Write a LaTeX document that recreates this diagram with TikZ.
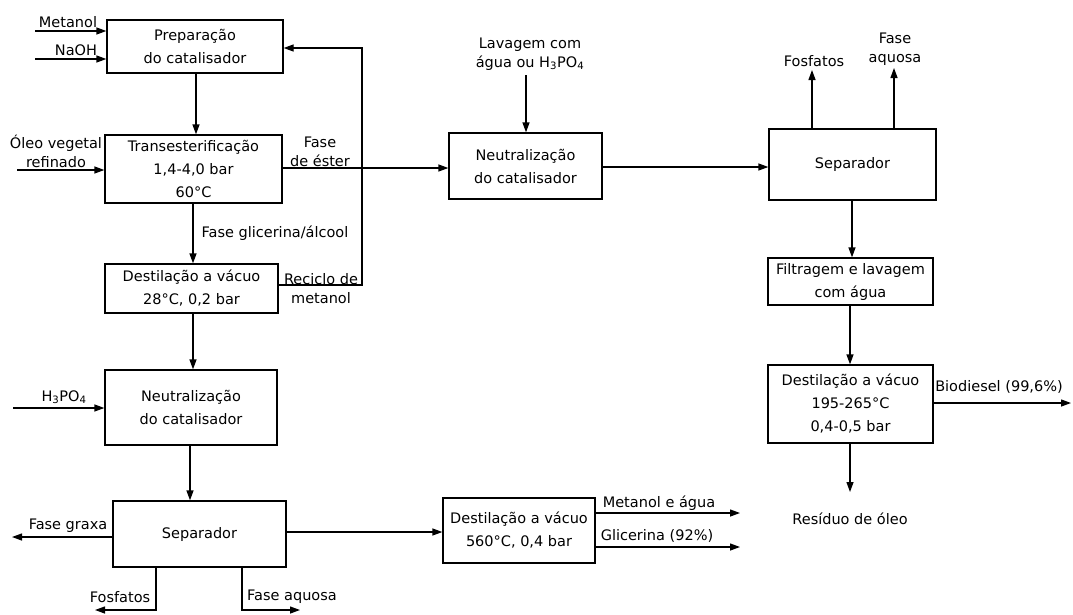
\documentclass[tikz,border=0pt]{standalone}
\usepackage{fontspec}
\setmainfont{DejaVu Sans}
\usetikzlibrary{arrows.meta}
\begin{document}
\begin{tikzpicture}[x=1pt,y=-1pt,
  box/.style={draw, line width=1.3pt, inner sep=2pt, align=center, font=\fontsize{14.5}{23}\selectfont},
  flow/.style={line width=1.3pt, -{Triangle[length=10pt,width=7pt]}},
  lbl/.style={font=\fontsize{14.5}{19}\selectfont, align=center, inner sep=1pt}]
\useasboundingbox (0,0) rectangle (1073,614);

% boxes
\node[box, minimum width=176pt, minimum height=53pt] (prep) at (195,46.5) {Preparação\\do catalisador};
\node[box, minimum width=177pt, minimum height=68pt] (trans) at (193.5,169) {Transesterificação\\1,4-4,0 bar\\60°C};
\node[box, minimum width=173pt, minimum height=49pt] (dest1) at (191.5,288.5) {Destilação a vácuo\\28°C, 0,2 bar};
\node[box, minimum width=172pt, minimum height=75pt] (neut1) at (191,407.5) {Neutralização\\do catalisador};
\node[box, minimum width=173pt, minimum height=66pt] (sep1) at (199.5,534) {Separador};
\node[box, minimum width=152pt, minimum height=65pt] (dest2) at (519,530.5) {Destilação a vácuo\\560°C, 0,4 bar};
\node[box, minimum width=153pt, minimum height=66pt] (neut2) at (525.5,166) {Neutralização\\do catalisador};
\node[box, minimum width=167pt, minimum height=71pt] (sep2) at (852.5,164.5) {Separador};
\node[box, minimum width=165pt, minimum height=47pt] (filt) at (850.5,281.5) {Filtragem e lavagem\\com água};
\node[box, minimum width=165pt, minimum height=78pt] (dest3) at (850.5,404) {Destilação a vácuo\\195-265°C\\0,4-0,5 bar};

% free ends
\coordinate (inMet) at (35,31);
\coordinate (inNaOH) at (35,59);
\coordinate (inOleo) at (17,170);
\coordinate (inH3) at (13,408);
\coordinate (inLav) at (526,75);
\coordinate (r1) at (362,285);
\coordinate (r2) at (362,48);
\coordinate (outGraxa) at (12,537);
\coordinate (f1) at (156,610);
\coordinate (f1e) at (95,610);
\coordinate (a1) at (242,610);
\coordinate (a1e) at (300,610);
\coordinate (outMet) at (740,513);
\coordinate (outGli) at (740,547);
\coordinate (outFos) at (812,70);
\coordinate (outAq) at (894,68);
\coordinate (outBio) at (1071,403);
\coordinate (outRes) at (850,492);

% connectors
\draw[flow] (inMet) -- (inMet -| prep.west);
\draw[flow] (inNaOH) -- (inNaOH -| prep.west);
\draw[flow] (prep.south -| 196,0) -- (196,0 |- trans.north);
\draw[flow] (inOleo) -- (inOleo -| trans.west);
\draw[flow] (trans.south -| 193,0) -- (193,0 |- dest1.north);
\draw[flow] (r1 -| dest1.east) -- (r1) -- (r2) -- (r2 -| prep.east);
\draw[flow] (dest1.south -| 193,0) -- (193,0 |- neut1.north);
\draw[flow] (inH3) -- (inH3 -| neut1.west);
\draw[flow] (neut1.south -| 190,0) -- (190,0 |- sep1.north);
\draw[flow] (sep1.west |- outGraxa) -- (outGraxa);
\draw[flow] (f1 |- sep1.south) -- (f1) -- (f1e);
\draw[flow] (a1 |- sep1.south) -- (a1) -- (a1e);
\draw[flow] (sep1.east |- 0,532) -- (dest2.west |- 0,532);
\draw[flow] (dest2.east |- outMet) -- (outMet);
\draw[flow] (dest2.east |- outGli) -- (outGli);
\draw[flow] (trans.east |- 0,168) -- (neut2.west |- 0,168);
\draw[flow] (inLav) -- (inLav |- neut2.north);
\draw[flow] (neut2.east |- 0,167) -- (sep2.west |- 0,167);
\draw[flow] (outFos |- sep2.north) -- (outFos);
\draw[flow] (outAq |- sep2.north) -- (outAq);
\draw[flow] (sep2.south -| 852,0) -- (852,0 |- filt.north);
\draw[flow] (filt.south -| 850,0) -- (850,0 |- dest3.north);
\draw[flow] (dest3.east |- outBio) -- (outBio);
\draw[flow] (dest3.south -| outRes) -- (outRes);

% labels
\node[lbl] (lMet) at (68,22) {Metanol};
\node[lbl] (lNaOH) at (76,50) {NaOH};
\node[lbl] (lOleo) at (56,151) {Óleo vegetal\\refinado};
\node[lbl] (lEster) at (320,152) {Fase\\de éster};
\node[lbl] (lGli) at (275,233) {Fase glicerina/álcool};
\node[lbl] (lRec) at (321,289) {Reciclo de\\metanol};
\node[lbl] (lH3) at (64,397) {H\textsubscript{3}PO\textsubscript{4}};
\node[lbl] (lGraxa) at (68,526) {Fase graxa};
\node[lbl] (lFos1) at (120,597) {Fosfatos};
\node[lbl] (lAq1) at (292,597) {Fase aquosa};
\node[lbl] (lMetA) at (659,503) {Metanol e água};
\node[lbl] (lGlic) at (657,536) {Glicerina (92\%)};
\node[lbl] (lLav) at (530,54) {Lavagem com\\água ou H\textsubscript{3}PO\textsubscript{4}};
\node[lbl] (lFos2) at (814,61) {Fosfatos};
\node[lbl] (lAq2) at (895,49) {Fase\\aquosa};
\node[lbl] (lBio) at (999,387) {Biodiesel (99,6\%)};
\node[lbl] (lRes) at (850,519) {Resíduo de óleo};
\end{tikzpicture}
\end{document}
